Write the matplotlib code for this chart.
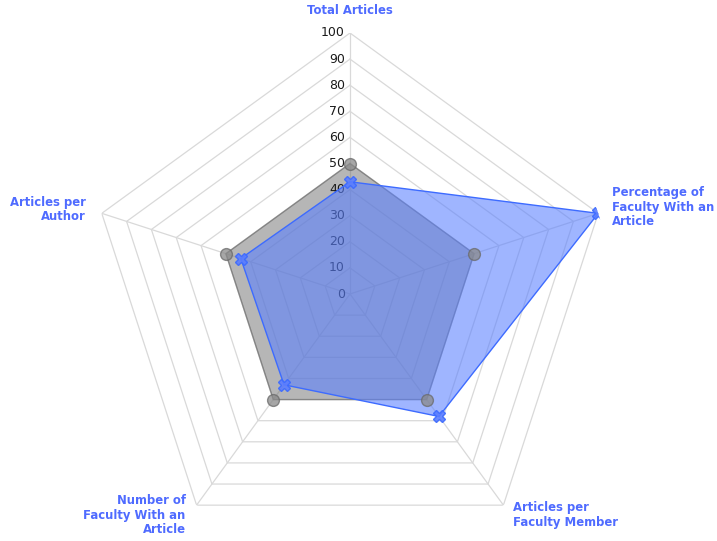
import numpy as np
import matplotlib.pyplot as plt

categories = ["Total Articles",
              "Percentage of\nFaculty With an\nArticle",
              "Articles per\nFaculty Member",
              "Number of\nFaculty With an\nArticle",
              "Articles per\nAuthor"]
benchmark = [50, 50, 50, 50, 50]
school = [43, 100, 58, 43, 44]
levels = [0, 10, 20, 30, 40, 50, 60, 70, 80, 90, 100]

# label offsets in pixels (dx, dy), alignment
label_pos = [((0, 22), "center"),
             ((14, 6), "left"),
             ((10, -10), "left"),
             ((-11, -10), "right"),
             ((-16, 4), "right")]

label_color = "#4f6bff"
px = 72 / 100

n = len(categories)
angles = np.linspace(0, 2 * np.pi, n, endpoint=False)
ang_c = np.append(angles, angles[0])

fig = plt.figure(figsize=(7.17, 5.41), dpi=100)
R = 261
cx, cy = 350, 294
ax = fig.add_axes([(cx - R) / 717, (541 - cy - R) / 541, 2 * R / 717, 2 * R / 541],
                  projection="polar")
ax.set_theta_offset(np.pi / 2)
ax.set_theta_direction(-1)
ax.set_ylim(0, 100)
ax.grid(False)
ax.set_xticks([])
ax.set_yticks([])
ax.spines["polar"].set_visible(False)
ax.patch.set_alpha(0)

# pentagon grid
for lv in levels[1:]:
    ax.plot(ang_c, [lv] * (n + 1), color="#d9d9d9", lw=0.9, zorder=1)
for a in angles:
    ax.plot([a, a], [0, 100], color="#d9d9d9", lw=0.9, zorder=1)

# value labels on the top spoke
for lv in levels:
    ax.annotate(str(lv), (0, lv), xytext=(-5 * px, 0), textcoords="offset points",
                ha="right", va="center", fontsize=9, color="#1a1a1a",
                annotation_clip=False, zorder=2.5)

# series
b = benchmark + benchmark[:1]
s = school + school[:1]
ax.fill(ang_c, b, color="#6e6e6e", alpha=0.5, zorder=2, lw=0)
ax.plot(ang_c, b, color="#6e6e6e", lw=1, alpha=0.7, zorder=2)
ax.plot(angles, benchmark, ls="none", marker="o", ms=8.5, color="#8a8a8a",
        mec="#6a6a6a", alpha=0.75, zorder=4)

ax.fill(ang_c, s, color="#5a80ff", alpha=0.58, zorder=3, lw=0)
ax.plot(ang_c, s, color="#3d6bff", lw=1, zorder=3)
ax.plot(angles, school, ls="none", marker="X", ms=8, color="#5a7dff",
        mec="#3d6bff", alpha=0.9, zorder=5)

# category labels
for a, lab, ((dx, dy), ha) in zip(angles, categories, label_pos):
    ax.annotate(lab, (a, 100), xytext=(dx * px, dy * px), textcoords="offset points",
                ha=ha, va="center", fontsize=8.4, fontweight="bold",
                color=label_color, linespacing=1.15, annotation_clip=False)

fig.savefig("out.png", dpi=100)
